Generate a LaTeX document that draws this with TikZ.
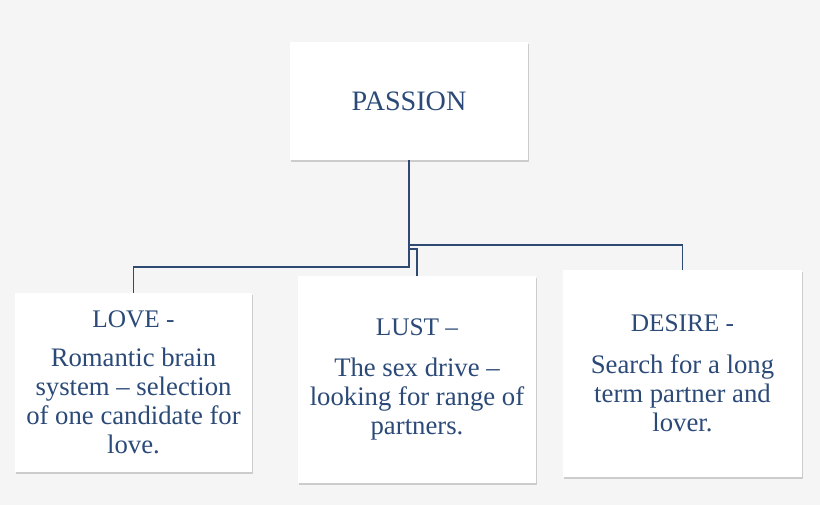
\documentclass[tikz,border=0pt]{standalone}
\usepackage{fontspec}
\setmainfont{Liberation Serif}
\usetikzlibrary{shadows}
\definecolor{txtblue}{HTML}{2B4A78}
\definecolor{lineblue}{HTML}{2E4A72}
\definecolor{bggray}{HTML}{F5F5F5}
\begin{document}
\begin{tikzpicture}[x=0.025cm, y=-0.025cm,
    box/.style = {fill=white, inner sep=0pt, align=center, text=txtblue, font=\fontsize{19}{20.6}\selectfont,
                  drop shadow={shadow xshift=0.5pt, shadow yshift=-1.5pt, opacity=0.35}},
    link/.style = {draw=lineblue, line width=1.2pt}]

    \fill[bggray] (0,0) rectangle (820,505);
    \useasboundingbox (0,0) rectangle (820,505);

    \node[box, minimum width=5.95cm, minimum height=2.95cm] (passion) at (409,101) {\fontsize{20}{22}\selectfont PASSION};
    \node[box, minimum width=5.92cm, minimum height=4.47cm] (love) at (133.5,382.5)
        {\fontsize{18}{20}\selectfont LOVE -\\[7pt] Romantic brain\\ system -- selection\\ of one candidate for\\ love.};
    \node[box, minimum width=5.95cm, minimum height=5.17cm] (lust) at (417,379.5)
        {\fontsize{18}{20}\selectfont LUST --\\[9pt] The sex drive --\\ looking for range of\\ partners.};
    \node[box, minimum width=5.97cm, minimum height=5.17cm] (desire) at (682.5,373.5)
        {\fontsize{18}{20}\selectfont DESIRE -\\[9pt] Search for a long\\ term partner and\\ lover.};

    \coordinate (split) at (409,267);
    \coordinate (tolust) at (409,249);
    \coordinate (todesire) at (409,245);
    \draw[link] (passion.south) -- (split) -| (love.north);
    \draw[link] (tolust) -| (lust.north);
    \draw[link] (todesire) -| (desire.north);

\end{tikzpicture}
\end{document}
